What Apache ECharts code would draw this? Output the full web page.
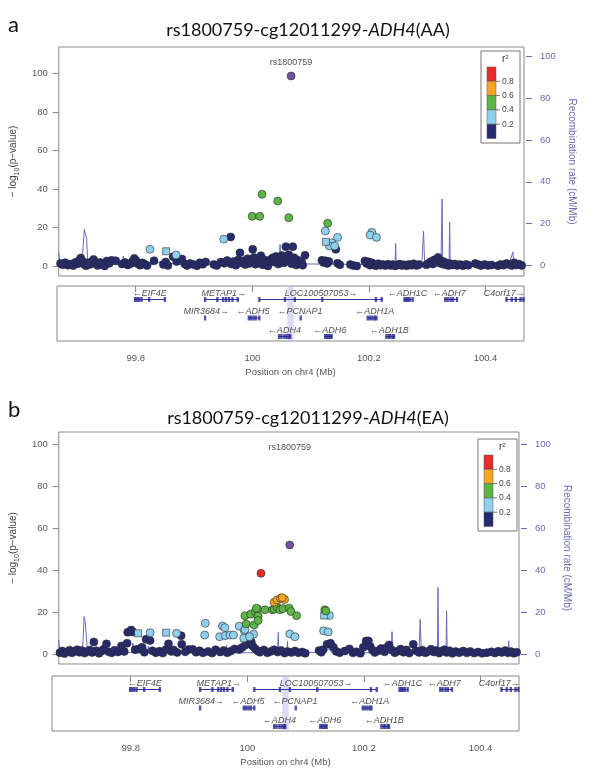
<!DOCTYPE html>
<html><head><meta charset="utf-8">
<script src="https://cdn.jsdelivr.net/npm/echarts@6/dist/echarts.min.js"></script>
<style>html,body{margin:0;padding:0;background:#fff}#c{width:600px;height:779px}</style>
</head><body><div id="c"></div><script>
// ---------------- DATA ----------------
const xTicks = [99.8, 100, 100.2, 100.4];
const yTicks = [0, 20, 40, 60, 80, 100];
const legendTicks = ['0.8', '0.6', '0.4', '0.2'];
const leadName = 'rs1800759';

// panel a (AA): [position Mb, -log10 p]
const aNavy = [[99.668,1.5],[99.672,0.8],[99.676,1.9],[99.681,0.6],[99.686,1.2],[99.69,0.4],[99.694,2.1],[99.698,1.4],[99.701,3.2],[99.703,4.3],[99.706,2.6],[99.709,1.0],[99.712,0.3],[99.715,1.8],[99.718,0.9],[99.722,2.4],[99.725,3.6],[99.728,1.3],[99.732,0.5],[99.736,2.0],[99.74,1.1],[99.744,0.2],[99.748,2.8],[99.752,1.6],[99.756,3.1],[99.763,2.9],
[99.774,1.2],[99.779,2.0],[99.784,0.7],[99.789,1.5],[99.792,2.6],[99.795,4.1],[99.798,3.0],[99.801,1.3],[99.805,0.6],[99.809,1.8],[99.813,1.1],[99.817,0.4],[99.829,2.9],[99.845,1.0],[99.849,2.2],[99.853,0.5],[99.862,5.0],[99.868,2.5],[99.877,3.8],[99.882,1.2],
[99.886,0.4],[99.891,1.5],[99.897,0.9],[99.903,0.3],[99.908,1.8],[99.913,1.1],[99.918,2.3],[99.932,1.0],[99.937,0.4],[99.944,2.2],[99.95,1.6],[99.955,3.0],[99.961,15.2],
[99.962,1.2],[99.966,2.5],[99.97,0.6],[99.974,3.3],[99.977,7.0],[99.979,1.9],[99.983,2.8],[99.986,0.9],[99.99,3.9],[99.993,1.5],[99.996,2.4],[99.999,8.8],[100.001,4.6],[100.004,1.1],[100.007,3.0],[100.01,2.0],[100.013,5.5],[100.016,0.8],[100.019,3.4],[100.022,1.6],[100.025,0.2],[100.028,2.7],[100.031,3.8],[100.034,4.5],[100.036,2.2],[100.039,5.1],[100.041,3.4],[100.043,1.2],[100.045,4.2],[100.047,2.6],[100.049,5.6],[100.051,3.9],[100.053,1.8],[100.056,10.2],[100.057,4.8],[100.059,2.9],[100.061,6.0],[100.063,3.5],[100.066,1.3],[100.068,10.2],[100.07,4.5],[100.072,2.5],[100.074,0.7],[100.077,3.2],[100.08,1.5],[100.083,2.4],[100.085,0.6],[100.089,5.7],
[100.118,3.1],[100.121,2.0],[100.124,2.9],[100.127,1.5],[100.13,2.5],[100.142,8.8],[100.145,1.6],[100.149,0.8],[100.167,0.9],[100.172,0.5],[100.178,0.2],
[100.192,2.8],[100.195,1.5],[100.198,2.4],[100.201,0.6],[100.204,1.9],[100.208,0.8],[100.211,0.3],[100.215,1.4],[100.219,0.6],[100.223,1.0],
[100.227,0.4],[100.232,1.1],[100.236,0.5],[100.24,0.9],[100.244,0.2],[100.248,0.7],[100.252,1.2],[100.256,0.5],[100.26,0.8],[100.264,0.3],[100.268,1.0],[100.272,0.6],[100.276,1.3],[100.281,0.4],[100.285,0.9],
[100.298,0.8],[100.302,1.6],[100.306,2.5],[100.309,1.2],[100.312,3.4],[100.315,2.1],[100.318,4.6],[100.321,3.0],[100.323,1.5],[100.326,2.6],[100.329,0.9],[100.332,1.8],[100.336,0.4],[100.339,1.4],[100.343,0.7],[100.347,1.2],[100.351,0.5],[100.356,0.9],[100.361,0.3],[100.366,1.0],[100.37,0.6],
[100.382,1.5],[100.387,0.9],[100.392,0.4],[100.398,1.0],[100.404,0.5],[100.41,0.7],[100.421,0.3],[100.426,1.0],[100.431,0.6],[100.436,1.5],[100.441,0.9],[100.445,0.4],[100.449,1.8],[100.453,0.7],[100.457,1.2],[100.462,0.5]];
const aSky = [[99.822,8.8],[99.867,5.9],[99.949,14.1],[100.124,18.3],[100.145,15.0],[100.135,12.2],[100.131,10.5],[100.14,10.5],[100.204,17.6],[100.201,16.2],[100.212,15.0]];
const aSkySq = [[99.85,7.8],[100.125,12.7]];
const aGreen = [[100.015,37.3],[100.042,33.8],[99.998,25.9],[100.011,25.9],[100.061,25.2],[100.128,22.3]];
const aOrange = [];
const aRed = [];
const aLead = [[100.065,98.6]];
const aLeadLabel = [[100.065,105.6]];
// recombination rate (cM/Mb)
const aRecomb = [[99.665,6.3],[99.667,1.0],[99.672,0.5],[99.69,0.6],[99.705,0.8],[99.707,9],[99.709,17.2],[99.711,17.0],[99.713,13],[99.715,1.0],[99.73,0.6],[99.76,0.5],[99.775,0.6],[99.776,4.4],[99.777,0.6],[99.8,0.5],[99.83,0.5],[99.84,1.8],[99.85,1.5],[99.86,0.9],[99.87,0.4],[99.95,0.4],[99.96,0.8],[100.02,0.7],[100.045,0.8],[100.046,10],[100.047,0.8],[100.12,0.6],[100.13,2],[100.135,0.6],[100.2,0.4],[100.244,0.5],[100.245,10.5],[100.246,0.5],[100.29,0.5],[100.293,16.4],[100.295,0.5],[100.323,0.8],[100.325,31.8],[100.326,0.8],[100.337,0.8],[100.338,20.7],[100.339,0.8],[100.44,0.5],[100.447,6.4],[100.448,0.5],[100.466,0.4]];

// panel b (EA)
const bNavy = [[99.667,0.6],[99.671,1.4],[99.675,0.2],[99.68,1.0],[99.684,1.8],[99.688,0.5],[99.692,1.2],[99.697,2.0],[99.701,0.8],[99.705,1.6],[99.71,0.4],[99.714,1.1],[99.719,1.9],[99.723,0.7],[99.726,5.7],[99.73,1.5],[99.735,0.3],[99.739,1.3],[99.743,2.2],[99.748,4.8],[99.752,1.0],[99.757,0.5],[99.762,1.7],[99.768,0.9],[99.774,3.8],[99.779,1.2],[99.784,5.1],[99.785,10.3],[99.791,11.4],[99.794,10.5],[99.798,2.0],[99.804,2.3],[99.81,3.2],[99.814,0.8],[99.817,7.0],[99.824,6.4],[99.828,1.5],[99.834,0.6],[99.84,1.3],[99.846,0.4],[99.851,2.0],[99.856,4.8],[99.861,1.2],[99.865,1.9],[99.871,0.7],[99.878,8.7],[99.879,4.6],[99.885,1.0],[99.891,2.1],[99.898,2.2],[99.904,0.8],[99.91,1.5],[99.916,0.5],[99.925,1.2],[99.932,0.4],[99.938,2.0],[99.946,0.9],[99.952,1.6],[99.958,0.6],[99.964,1.3],[99.971,2.4],[99.979,2.1],[99.984,3.0],[99.99,4.2],[99.996,5.0],[100.0,5.8],[100.003,3.6],[100.007,2.4],[100.011,1.5],[100.015,0.8],[100.022,1.9],[100.028,0.5],[100.034,1.2],[100.04,2.0],[100.046,0.9],[100.052,1.6],[100.058,0.4],[100.063,1.1],[100.07,0.7],[100.076,1.4],[100.082,0.6],[100.089,0.9],[100.094,0.3],
[100.118,1.6],[100.122,0.8],[100.125,2.0],[100.132,4.6],[100.138,5.1],[100.143,3.2],[100.148,1.2],[100.154,0.6],[100.163,1.4],[100.171,2.4],[100.177,0.5],[100.183,1.0],[100.19,0.3],[100.195,3.2],[100.2,6.2],[100.204,6.2],[100.207,3.5],[100.211,1.8],[100.215,0.7],[100.221,1.5],[100.226,2.6],[100.232,1.0],[100.236,3.1],[100.24,4.3],[100.245,1.8],[100.25,0.6],[100.255,1.3],[100.26,2.3],[100.265,0.8],[100.27,1.9],[100.275,0.4],[100.282,4.6],[100.287,1.5],[100.292,0.7],[100.298,1.8],[100.303,0.5],[100.308,1.2],[100.313,2.2],[100.318,0.9],[100.322,1.6],[100.327,0.4],[100.331,1.3],[100.336,2.0],[100.34,0.7],[100.345,1.5],[100.35,0.3],[100.356,1.1],[100.362,0.6],[100.369,1.4],[100.375,0.5],[100.381,1.2],[100.388,0.4],[100.395,0.9],[100.402,0.3],[100.41,0.6],[100.418,1.0],[100.424,0.4],[100.43,1.3],[100.436,0.7],[100.442,1.6],[100.447,0.5],[100.452,1.1],[100.457,0.3],[100.462,0.8]];
const bSky = [[99.92,14.6],[99.919,9.0],[99.95,13.3],[99.954,12.5],[99.945,8.2],[99.955,8.7],[99.963,9.0],[99.969,9.0],[99.979,13.2],[99.988,11.0],[99.989,11.6],[99.987,7.5],[100.004,9.4],[99.997,8.2],[100.067,9.5],[100.076,8.2],[100.136,18.3],[100.126,11.0],[100.134,10.5],[99.824,10.1],[99.87,9.8]];
const bSkySq = [[99.803,9.8],[99.852,10.1],[100.127,18.3]];
const bGreen = [[99.989,18.2],[99.999,18.9],[100.007,20.2],[100.011,21.3],[100.012,18.0],[100.009,21.8],[100.024,21.0],[100.037,21.0],[100.04,21.3],[100.045,22.2],[100.05,21.0],[100.055,21.6],[100.066,21.8],[100.069,20.2],[100.079,18.2],[99.991,14.3],[100.005,13.8],[100.012,15.9],[100.128,21.0],[100.13,20.5]];
const bOrange = [[100.04,24.6],[100.045,25.7],[100.051,26.5],[100.058,25.9],[100.054,26.8]];
const bRed = [[100.017,38.4]];
const bLead = [[100.067,51.9]];
const bLeadLabel = [[100.067,98.1]];
const bRecomb = [[99.665,6.7],[99.667,1.0],[99.672,0.5],[99.69,0.6],[99.706,0.8],[99.708,10],[99.709,17.8],[99.711,15.5],[99.713,16.2],[99.715,1.0],[99.73,0.6],[99.76,0.5],[99.792,0.6],[99.794,5.1],[99.796,0.6],[99.82,0.5],[99.821,3.8],[99.822,0.5],[99.85,0.6],[99.88,0.6],[99.881,3.5],[99.882,0.6],[99.956,0.5],[99.957,4.3],[99.958,0.5],[100.02,0.6],[100.046,0.8],[100.047,10.2],[100.048,0.8],[100.062,0.8],[100.063,6],[100.064,0.8],[100.13,0.8],[100.135,2.7],[100.14,0.6],[100.244,0.5],[100.245,10.6],[100.246,0.5],[100.292,0.5],[100.294,16.5],[100.296,0.5],[100.324,0.8],[100.325,31.7],[100.326,0.8],[100.339,0.8],[100.34,20.5],[100.341,0.8],[100.447,0.5],[100.448,6.3],[100.449,0.5],[100.466,0.4]];

// genes
const geneNames  = ['EIF4E','METAP1','LOC100507053','ADH1C','ADH7','C4orf17','MIR3684','ADH5','PCNAP1','ADH1A','ADH4','ADH6','ADH1B'];
const geneStart  = [99.798,99.918,100.012,100.26,100.329,100.435,99.919,99.993,100.083,100.197,100.045,100.124,100.229];
const geneEnd    = [99.851,99.977,100.223,100.276,100.352,100.466,99.919,100.013,100.083,100.214,100.066,100.137,100.244];
const geneStrand = [-1,1,1,-1,-1,1,1,-1,-1,-1,-1,-1,-1];
const geneRow    = [1,1,1,1,1,1,2,2,2,2,3,3,3];
const geneLabelX = [99.824,99.951,100.118,100.266,100.338,100.432,99.921,100.001,100.082,100.21,100.055,100.133,100.235];
const geneExons  = [[99.799,99.802,99.806,99.81,99.823,99.85],[99.919,99.94,99.95,99.955,99.96,99.966,99.975],[100.012,100.056,100.073,100.12,100.212,100.222],[100.261,100.264,100.267,100.27,100.275],[100.331,100.335,100.34,100.344,100.351],[100.436,100.445,100.452,100.46,100.465],[99.919],[99.994,99.998,100.002,100.006,100.012],[100.083],[100.198,100.202,100.206,100.21,100.213],[100.046,100.05,100.055,100.059,100.063,100.065],[100.125,100.128,100.131,100.134,100.136],[100.23,100.234,100.237,100.241,100.243]];
const leadBand = [100.06, 100.071];

// ---------------- STYLE ----------------
const C = {navy:'#262b6e', sky:'#8fd0ee', green:'#5cb544', orange:'#f6a623', red:'#e82a2a', lead:'#74529f', recomb:'#6a6ac0', axis:'#888', txt:'#555', rtxt:'#6a6ab8'};
const XMIN = 99.665, XMAX = 100.466;
const rowY = {1:13.5, 2:32, 3:50.5};

const chart = echarts.init(document.getElementById('c'), null, {renderer:'canvas'});

function yLeftAxis(grid, min, max){
  return {type:'value', gridIndex:grid, position:'left', min, max,
    axisLine:{show:false}, splitLine:{show:false},
    axisTick:{show:true, length:6, customValues:yTicks, lineStyle:{color:C.axis}},
    axisLabel:{customValues:yTicks, margin:11, color:C.txt, fontSize:9.5, fontFamily:'Liberation Sans'},
    name:'{t|\u2212 log}{s|10}{t|(p\u2212value)}', nameLocation:'middle', nameGap:33, nameRotate:90,
    nameTextStyle:{color:'#444', fontFamily:'Liberation Sans', rich:{t:{fontSize:10, color:'#444', fontFamily:'Liberation Sans'}, s:{fontSize:7, color:'#444', fontFamily:'Liberation Sans', verticalAlign:'bottom', lineHeight:16}}}};
}
function yRightAxis(grid, min, max){
  return {type:'value', gridIndex:grid, position:'right', min, max, offset:2,
    axisLine:{show:false}, splitLine:{show:false},
    axisTick:{show:true, length:6, customValues:yTicks, lineStyle:{color:C.rtxt}},
    axisLabel:{customValues:yTicks, margin:14, color:C.rtxt, fontSize:9.5, fontFamily:'Liberation Sans'},
    name:'Recombination rate (cM/Mb)', nameLocation:'middle', nameGap:34, nameRotate:-90,
    nameTextStyle:{color:C.rtxt, fontSize:10, fontFamily:'Liberation Sans'}};
}
function xHidden(grid){
  return {type:'value', gridIndex:grid, min:XMIN, max:XMAX, show:true, axisLine:{show:false}, axisTick:{show:false}, axisLabel:{show:false}, splitLine:{show:false}};
}
function xGene(grid){
  return {type:'value', gridIndex:grid, min:XMIN, max:XMAX, axisLine:{show:false}, splitLine:{show:false},
    axisTick:{show:true, length:6, customValues:xTicks, lineStyle:{color:C.axis}},
    axisLabel:{customValues:xTicks, margin:12, color:C.txt, fontSize:9.5, fontFamily:'Liberation Sans', formatter:v=>String(+v.toFixed(1))},
    name:'Position on chr4 (Mb)', nameLocation:'middle', nameGap:26, nameTextStyle:{color:C.txt, fontSize:9.5, fontFamily:'Liberation Sans'}};
}
function yGene(grid){ return {type:'value', gridIndex:grid, min:0, max:55, inverse:true, show:false}; }

function pts(xi, yi, data, color, symbol, size, z){
  return {type:'scatter', xAxisIndex:xi, yAxisIndex:yi, data, symbol, symbolSize:size, z:z||3, silent:true,
    itemStyle:{color, borderColor:'#2a2a2a', borderWidth:0.6, opacity:1}};
}
function panelSeries(xi, yL, yR, xg, yg, d){
  const s = [];
  s.push({type:'line', xAxisIndex:xi, yAxisIndex:yR, data:d.recomb, symbol:'none', z:2, silent:true, lineStyle:{color:C.recomb, width:1}});
  s.push(pts(xi, yL, d.navy, C.navy, 'circle', 8, 3));
  s.push(pts(xi, yL, d.sky, C.sky, 'circle', 8, 4));
  s.push(pts(xi, yL, d.skySq, C.sky, 'rect', 7, 4));
  s.push(pts(xi, yL, d.green, C.green, 'circle', 8, 5));
  s.push(pts(xi, yL, d.orange, C.orange, 'circle', 8, 6));
  s.push(pts(xi, yL, d.red, C.red, 'circle', 8, 7));
  s.push(pts(xi, yL, d.lead, C.lead, 'circle', 8, 8));
  s.push({type:'scatter', xAxisIndex:xi, yAxisIndex:yL, data:d.leadLabel, symbolSize:0, silent:true,
    label:{show:true, position:'inside', formatter:leadName, color:'#222', fontSize:9, fontFamily:'Liberation Sans'}});
  // genes
  geneNames.forEach((g,i)=>{
    const y = rowY[geneRow[i]];
    s.push({type:'line', xAxisIndex:xg, yAxisIndex:yg, symbol:'none', silent:true, z:3,
      data:[[geneStart[i],y],[geneEnd[i],y]], lineStyle:{color:'#3535a0', width:1}});
    s.push({type:'scatter', xAxisIndex:xg, yAxisIndex:yg, symbol:'rect', symbolSize:[2.4,5], silent:true, z:4,
      data:geneExons[i].map(e=>[e,y]), itemStyle:{color:'#2a2a96'}});
    const txt = geneStrand[i] < 0 ? '\u2190' + g : g + '\u2192';
    s.push({type:'scatter', xAxisIndex:xg, yAxisIndex:yg, symbolSize:0, silent:true, z:5,
      data:[[geneLabelX[i], y]],
      label:{show:true, position:'top', distance:2, formatter:txt, color:'#222', fontSize:9, fontStyle:'italic', fontFamily:'Liberation Sans'}});
  });
  s.push({type:'line', xAxisIndex:xg, yAxisIndex:yg, data:[], silent:true,
    markArea:{silent:true, itemStyle:{color:'rgba(190,190,235,0.55)'}, data:[[{xAxis:leadBand[0], yAxis:0},{xAxis:leadBand[1], yAxis:55}]]}});
  return s;
}

function legend(x, y){
  const cols = [C.red, C.orange, C.green, C.sky, C.navy];
  const els = [];
  els.push({type:'rect', shape:{x, y, width:39, height:92}, style:{fill:'#fff', stroke:'#777', lineWidth:1}, z:50});
  els.push({type:'text', x:x+21, y:y+3, style:{text:'{r|r}{s|2}', rich:{r:{fontSize:10, fontFamily:'Liberation Sans', fill:'#333'}, s:{fontSize:6, fontFamily:'Liberation Sans', fill:'#333', verticalAlign:'top', lineHeight:8}}}, z:51});
  cols.forEach((c,i)=>{
    els.push({type:'rect', shape:{x:x+6, y:y+16+i*14.3, width:9, height:14.3}, style:{fill:c, stroke:'#555', lineWidth:0.5}, z:51});
  });
  legendTicks.forEach((t,i)=>{
    const ty = y+16+(i+1)*14.3;
    els.push({type:'line', shape:{x1:x+15, y1:ty, x2:x+19, y2:ty}, style:{stroke:'#555', lineWidth:0.8}, z:51});
    els.push({type:'text', x:x+21, y:ty, style:{text:t, fontSize:8.5, fontFamily:'Liberation Sans', fill:'#444', verticalAlign:'middle'}, z:51});
  });
  return els;
}
function title(y, pop){
  return {type:'text', x:308, y, style:{text:'{n|rs1800759-cg12011299-}{i|ADH4}{n|(' + pop + ')}', align:'center', verticalAlign:'middle',
    rich:{n:{fontSize:18, fontFamily:'Lato', fill:'#111'}, i:{fontSize:18, fontFamily:'Lato', fontStyle:'italic', fill:'#111'}}}};
}

const grids = [
  {left:57, top:47, width:467, height:229},
  {left:57, top:286, width:467, height:55},
  {left:52, top:432, width:467, height:232},
  {left:52, top:676, width:467, height:55}
].map(g=>Object.assign(g, {show:true, borderColor:'#888', borderWidth:1, backgroundColor:'transparent'}));

const option = {
  animation:false,
  grid:grids,
  xAxis:[xHidden(0), xGene(1), xHidden(2), xGene(3)],
  yAxis:[yLeftAxis(0,-5,113.6), yRightAxis(0,-5.1,104.6), yGene(1), yLeftAxis(2,-4.8,105.7), yRightAxis(2,-4.8,105.7), yGene(3)],
  series:[].concat(
    panelSeries(0,0,1,1,2,{recomb:aRecomb, navy:aNavy, sky:aSky, skySq:aSkySq, green:aGreen, orange:aOrange, red:aRed, lead:aLead, leadLabel:aLeadLabel}),
    panelSeries(2,3,4,3,5,{recomb:bRecomb, navy:bNavy, sky:bSky, skySq:bSkySq, green:bGreen, orange:bOrange, red:bRed, lead:bLead, leadLabel:bLeadLabel})
  ),
  graphic:[].concat(
    [{type:'text', x:8, y:25, style:{text:'a', fontSize:22, fontFamily:'Lato', fill:'#111', verticalAlign:'middle'}},
     {type:'text', x:8, y:410, style:{text:'b', fontSize:22, fontFamily:'Lato', fill:'#111', verticalAlign:'middle'}},
     title(30,'AA'), title(418,'EA')],
    legend(481,51), legend(478,439)
  )
};
chart.setOption(option);
</script></body></html>
